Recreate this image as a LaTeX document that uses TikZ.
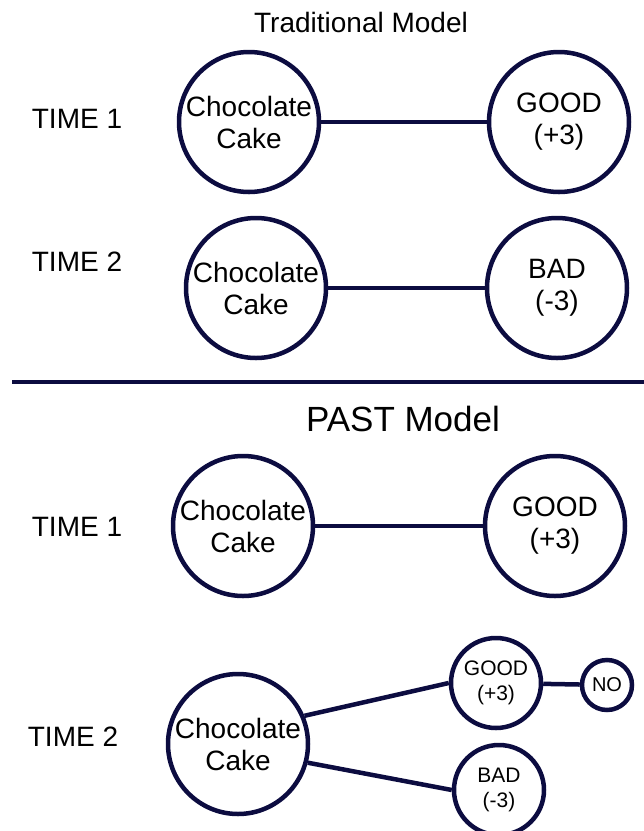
\documentclass[tikz,border=0pt]{standalone}
\usepackage{fontspec}
\setmainfont{Liberation Sans}

\definecolor{navy}{RGB}{12,12,64}

\begin{document}
\begin{tikzpicture}[x=1pt, y=-1pt,
  every node/.style={anchor=center, align=center, font=\fontsize{28}{32}\selectfont},
  big/.style={circle, draw=navy, line width=4.5pt, minimum size=140pt, inner sep=-6pt},
  small/.style={circle, draw=navy, line width=4.5pt, minimum size=90pt, inner sep=-6pt, font=\fontsize{21}{25}\selectfont},
  tiny/.style={circle, draw=navy, line width=4.5pt, minimum size=50pt, inner sep=-6pt, font=\fontsize{20}{24}\selectfont},
  link/.style={draw=navy, line width=4.5pt}]
  \useasboundingbox (0,0) rectangle (644,831);

  % traditional model
  \node (H1) at (361,22) {Traditional Model};
  \node (T1) at (77,119) {TIME 1};
  \node[big] (C1) at (249,122) {Chocolate\\Cake};
  \node[big] (G1) at (559,122) {GOOD\\(+3)};
  \node (T2) at (77,262) {TIME 2};
  \node[big] (C2) at (256,288) {Chocolate\\Cake};
  \node[big] (B2) at (557,288) {BAD\\(-3)};

  \path[link] (C1) -- (G1);
  \path[link] (C2) -- (B2);

  \coordinate (L) at (12,382);
  \coordinate (R) at (644,382);
  \path[link] (L) -- (R);

  % past model
  \node[font=\fontsize{35}{40}\selectfont] (H2) at (403,419) {PAST Model};
  \node (T3) at (77,527) {TIME 1};
  \node[big] (C3) at (243,526) {Chocolate\\Cake};
  \node[big] (G3) at (555,526) {GOOD\\(+3)};
  \node (T4) at (73,737) {TIME 2};
  \node[big] (C4) at (238,744) {Chocolate\\Cake};
  \node[small] (G4) at (496,683) {GOOD\\(+3)};
  \node[tiny] (N4) at (607,685) {NO};
  \node[small] (B4) at (499,790) {BAD\\(-3)};

  \path[link] (C3) -- (G3);
  \path[link] (C4.23) -- (G4.west);
  \path[link] (C4.-15) -- (B4.west);
  \path[link] (G4) -- (N4);
\end{tikzpicture}
\end{document}
